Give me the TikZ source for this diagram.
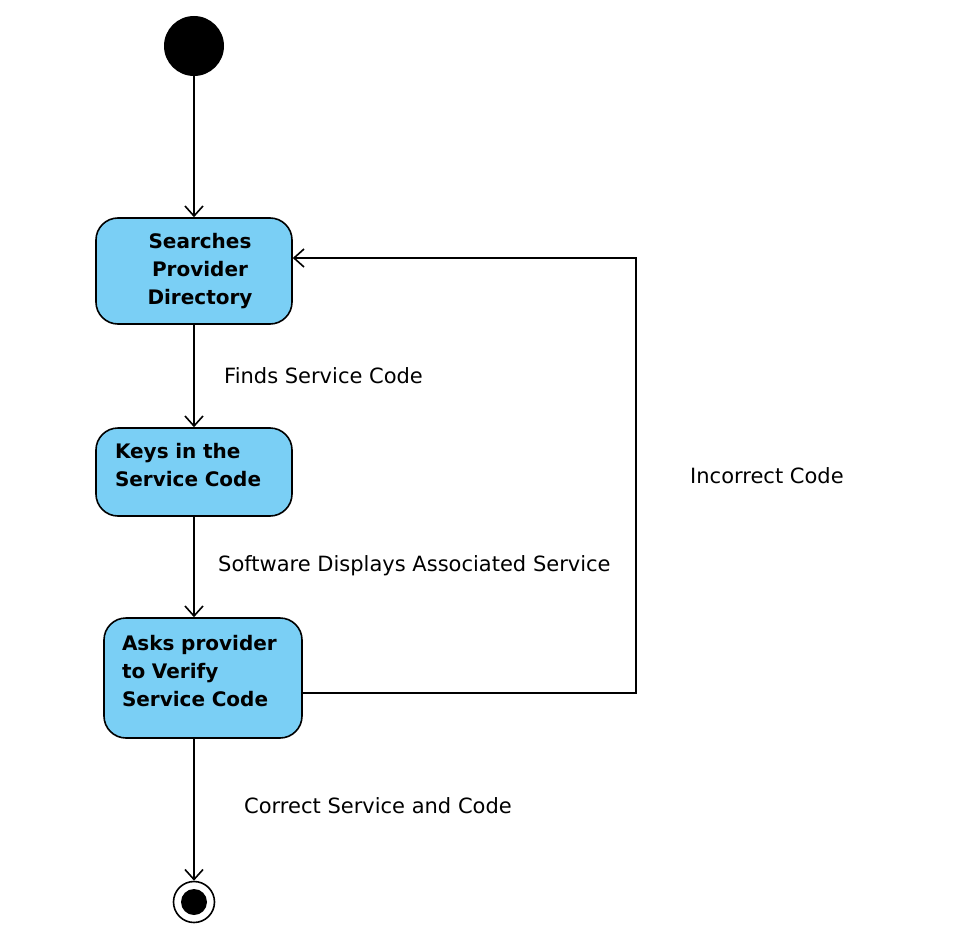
\documentclass[tikz,border=0pt]{standalone}
\usepackage{fontspec}
\setmainfont{DejaVu Sans}
\usetikzlibrary{arrows.meta}

\definecolor{actblue}{RGB}{122,207,245}

\tikzset{
    activity/.style={draw, line width=1.6pt, fill=actblue, rounded corners=22pt,
        font=\fontsize{20}{28}\selectfont\bfseries, inner sep=0pt},
    flow/.style={line width=1.6pt, -{Straight Barb[length=10pt,width=18pt]}},
    guard/.style={anchor=west, font=\fontsize{21}{26}\selectfont, inner sep=0pt}
}

\begin{document}
\begin{tikzpicture}[x=1pt, y=-1pt]
            \useasboundingbox (0, 0) rectangle (956, 950);

            % Start och slut
            \node[circle, fill=black, minimum size=60pt, inner sep=0pt] (start) at (194, 46) {};
            \node[circle, draw, line width=1.6pt, minimum size=41pt, inner sep=0pt] (finish) at (194, 902) {};
            \node[circle, fill=black, minimum size=26pt, inner sep=0pt] (finishdot) at (194, 902) {};

            % Aktiviteter
            \node[activity, minimum width=196pt, minimum height=106pt, text width=160pt, align=center]
                (search) at (194, 271) {\hspace*{12pt}Searches\\ \hspace*{12pt}Provider\\ \hspace*{12pt}Directory};
            \node[activity, minimum width=196pt, minimum height=88pt, text width=158pt, align=left]
                (keys) at (194, 472) {Keys in the\\ Service Code\\[-14pt]\mbox{}};
            \node[activity, minimum width=198pt, minimum height=120pt, text width=162pt, align=left]
                (verify) at (203, 678) {Asks provider\\ to Verify\\ Service Code\\[-14pt]\mbox{}};

            % Flöden
            \draw[flow] (start) -- (search);
            \draw[flow] (search) -- (keys);
            \draw[flow] (keys.south) -- (keys.south |- verify.north);
            \draw[flow] (verify.south -| finish) -- (finish);

            % Återgång vid fel kod
            \coordinate (loopbot) at (636, 693);
            \coordinate (looptop) at (636, 258);
            \draw[flow] (verify.east |- loopbot) -- (loopbot) -- (looptop) -- (search.east |- looptop);

            % Villkor
            \node[guard] (found) at (224, 376) {Finds Service Code};
            \node[guard] (shown) at (218, 566) {Software Displays Associated Service};
            \node[guard] (wrong) at (690, 476) {Incorrect Code};
            \node[guard] (right) at (244, 806) {Correct Service and Code};
        \end{tikzpicture}
\end{document}
